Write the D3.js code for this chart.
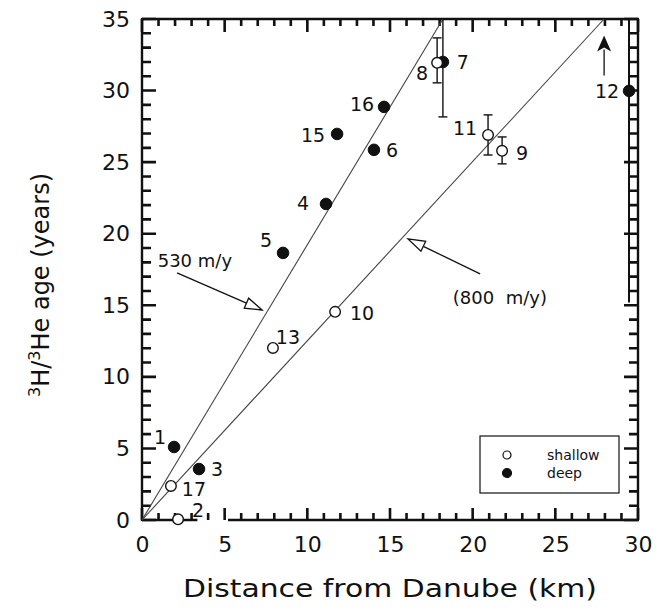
<!DOCTYPE html>
<html><head><meta charset="utf-8">
<script src="https://cdn.jsdelivr.net/npm/d3@7"></script>
<style>body{margin:0;background:#fff} svg{display:block} text{font-family:"DejaVu Sans",sans-serif;fill:#111}</style>
</head><body><svg id="c" width="659" height="612"></svg>
<script>
// ---------- data ----------
const sampleIds   = ["1","2","3","4","5","6","7","8","9","10","11","12","13","15","16","17"];
const sampleDepth = ["deep","shallow","deep","deep","deep","deep","deep","shallow","shallow","shallow","shallow","deep","shallow","deep","deep","shallow"];
const distanceKm  = [1.94, 2.18, 3.45, 11.13, 8.53, 14.03, 18.2, 17.85, 21.78, 11.68, 20.93, 29.46, 7.92, 11.8, 14.64, 1.75];
const ageYears    = [5.1, 0.05, 3.56, 22.08, 18.66, 25.86, 32.0, 31.94, 25.79, 14.54, 26.9, 29.98, 12.02, 26.97, 28.86, 2.38];
const errLow      = [null,null,null,null,null,null,28.16,30.54,24.88,null,25.5,null,null,null,null,null];
const errHigh     = [null,null,null,null,null,null,35.0,33.68,26.76,null,28.3,null,null,null,null,null];
const xTicks = [0,5,10,15,20,25,30];
const yTicks = [0,5,10,15,20,25,30,35];
const xMinorTicks = [0,1,2,3,4,5,6,7,8,9,10,11,12,13,14,15,16,17,18,19,20,21,22,23,24,25,26,27,28,29,30];
const yMinorTicks = [0,1,2,3,4,5,6,7,8,9,10,11,12,13,14,15,16,17,18,19,20,21,22,23,24,25,26,27,28,29,30,31,32,33,34,35];
const flowLines = [ // velocity lines from origin: [x0,y0,x1,y1]
  {name:"530 m/y", pts:[0,0,18.2,35]},
  {name:"800 m/y", pts:[0,0,27.95,35]}
];
const annotations = [ // text anchor + arrow tail/tip in data units
  {text:"530 m/y",   tx:0.95, ty:17.7, ax1:2.12, ay1:17.26, ax2:7.26, ay2:14.67},
  {text:"(800  m/y)", tx:18.8, ty:15.1, ax1:20.45, ay1:17.19, ax2:16.09, ay2:19.64}
];
const upArrow12 = {x:27.95, y1:31.05, y2:33.85}; // age of well 12 is a lower limit
const legendItems = ["shallow","deep"];

// ---------- layout (not data) ----------
const labelOffset = {"1":[-14,-10],"2":[20,-9],"3":[18,0],"4":[-23,-1],"5":[-17,-13],"6":[18,0],
  "7":[20,0],"8":[-15,10],"9":[20,2],"10":[27,1],"11":[-23,-7],"12":[-22,0],"13":[15,-11],
  "15":[-24,1],"16":[-22,-3],"17":[23,3]};

const svg = d3.select("#c");
const x = d3.scaleLinear().domain([0,30]).range([142,638]);
const y = d3.scaleLinear().domain([0,35]).range([520,19]);
const ink = "#111";

// ---------- tick labels via d3 axes ----------
const gl = svg.append("g").attr("transform","translate(142,0)")
  .call(d3.axisLeft(y).tickValues(yTicks).tickSize(0).tickPadding(12));
const gb = svg.append("g").attr("transform","translate(0,520)")
  .call(d3.axisBottom(x).tickValues(xTicks).tickSize(0).tickPadding(16));
[gl,gb].forEach(g=>{g.select(".domain").remove(); g.selectAll("text").style("font-size","22px").attr("fill",ink);});

// ---------- inward ticks (one path) ----------
const isMajor = v => v % 5 === 0;
let tickPath = "";
yMinorTicks.forEach(v=>{
  const yy = y(v);
  tickPath += `M${x(0)},${yy}H${x(0)+(isMajor(v)?14:9)}`;
  tickPath += `M${x(30)},${yy}H${x(30)-(isMajor(v)?14:9)}`;
});
xMinorTicks.forEach(v=>{
  const xx = x(v);
  tickPath += `M${xx},${y(0)}V${y(0)-(isMajor(v)?12:7)}`;
  tickPath += `M${xx},${y(35)}V${y(35)+(isMajor(v)?13:7)}`;
});

// frame
const fr = svg.append("g").attr("stroke",ink).attr("stroke-width",2.4).attr("fill","none");
fr.append("line").attr("x1",x(0)).attr("x2",x(0)).attr("y1",y(0)+1).attr("y2",y(35)-1);
fr.append("line").attr("x1",x(0)).attr("x2",x(30)+1).attr("y1",y(35)).attr("y2",y(35));
fr.append("line").attr("x1",x(30)).attr("x2",x(30)).attr("y1",y(0)).attr("y2",y(35));
fr.append("line").attr("x1",x(0)).attr("x2",x(3.35)).attr("y1",y(0)).attr("y2",y(0));
fr.append("line").attr("x1",x(5.2)).attr("x2",x(30)+1).attr("y1",y(0)).attr("y2",y(0));
// inner rail on the right axis (ladder look)
fr.append("line").attr("stroke-width",2).attr("x1",x(30)-9).attr("x2",x(30)-9).attr("y1",y(35)).attr("y2",y(15.2));
svg.append("path").attr("d",tickPath).attr("fill","none").attr("stroke",ink).attr("stroke-width",2.6);

// axis titles
svg.append("text").attr("x",390).attr("y",597).attr("text-anchor","middle")
  .attr("textLength",414).attr("lengthAdjust","spacingAndGlyphs")
  .style("font-size","24px").text("Distance from Danube (km)");
const yt = svg.append("text").attr("transform","translate(49,285) rotate(-90)").attr("text-anchor","middle").style("font-size","24px");
yt.append("tspan").attr("dy","-9").style("font-size","16px").text("3");
yt.append("tspan").attr("dy","9").text("H/");
yt.append("tspan").attr("dy","-9").style("font-size","16px").text("3");
yt.append("tspan").attr("dy","9").text("He age  (years)");

// ---------- flow lines ----------
svg.append("g").selectAll("line").data(flowLines).join("line")
  .attr("x1",d=>x(d.pts[0])).attr("y1",d=>y(d.pts[1])).attr("x2",d=>x(d.pts[2])).attr("y2",d=>y(d.pts[3]))
  .attr("stroke","#444").attr("stroke-width",1.1);

// ---------- annotations ----------
function openArrow(x1,y1,x2,y2,len,hw){
  const a = Math.atan2(y2-y1,x2-x1), c=Math.cos(a), s=Math.sin(a);
  const bx=x2-len*c, by=y2-len*s;
  svg.append("line").attr("x1",x1).attr("y1",y1).attr("x2",bx).attr("y2",by).attr("stroke",ink).attr("stroke-width",1.3);
  svg.append("polygon").attr("points",[[x2,y2],[bx-hw*s,by+hw*c],[bx+hw*s,by-hw*c]].map(p=>p.join(",")).join(" "))
    .attr("fill","#fff").attr("stroke",ink).attr("stroke-width",1.3).attr("stroke-linejoin","miter");
}
annotations.forEach(a=>{
  svg.append("text").attr("x",x(a.tx)).attr("y",y(a.ty)).style("font-size","18px").style("white-space","pre").text(a.text);
  openArrow(x(a.ax1),y(a.ay1),x(a.ax2),y(a.ay2),17,5.5);
});
// up arrow for well 12
svg.append("line").attr("x1",x(upArrow12.x)).attr("x2",x(upArrow12.x)).attr("y1",y(upArrow12.y1)).attr("y2",y(upArrow12.y2)+14)
  .attr("stroke",ink).attr("stroke-width",1.3);
svg.append("polygon").attr("points",[[x(upArrow12.x),y(upArrow12.y2)],[x(upArrow12.x)-7,y(upArrow12.y2)+16],[x(upArrow12.x),y(upArrow12.y2)+12],[x(upArrow12.x)+7,y(upArrow12.y2)+16]].map(p=>p.join(",")).join(" "))
  .attr("fill",ink);

// ---------- error bars ----------
const eb = svg.append("g").attr("stroke",ink).attr("stroke-width",1.4);
sampleIds.forEach((id,i)=>{
  if(errLow[i]==null) return;
  const cx=x(distanceKm[i]);
  const top = Math.min(errHigh[i],35);
  eb.append("line").attr("x1",cx).attr("x2",cx).attr("y1",y(errLow[i])).attr("y2",y(top));
  eb.append("line").attr("x1",cx-4.5).attr("x2",cx+4.5).attr("y1",y(errLow[i])).attr("y2",y(errLow[i]));
  if(errHigh[i]<35) eb.append("line").attr("x1",cx-4.5).attr("x2",cx+4.5).attr("y1",y(top)).attr("y2",y(top));
});

// ---------- points ----------
const pts = sampleIds.map((id,i)=>({id, t:sampleDepth[i], d:distanceKm[i], a:ageYears[i]}));
svg.append("g").selectAll("circle").data(pts).join("circle")
  .attr("cx",d=>x(d.d)).attr("cy",d=>y(d.a)).attr("r",d=>d.t==="deep"?5.8:5.3)
  .attr("fill",d=>d.t==="deep"?ink:"#fff").attr("stroke",ink).attr("stroke-width",d=>d.t==="deep"?1:1.4);
svg.append("g").selectAll("text").data(pts).join("text")
  .attr("x",d=>x(d.d)+labelOffset[d.id][0]).attr("y",d=>y(d.a)+labelOffset[d.id][1])
  .attr("text-anchor","middle").attr("dominant-baseline","central").style("font-size","19px").text(d=>d.id);

// ---------- legend ----------
const lg = svg.append("g");
lg.append("rect").attr("x",480).attr("y",436).attr("width",139).attr("height",57).attr("fill","#fff").attr("stroke",ink).attr("stroke-width",1.2);
legendItems.forEach((k,i)=>{
  const ly = 455+i*18;
  lg.append("circle").attr("cx",507).attr("cy",ly).attr("r",k==="deep"?4.5:4).attr("fill",k==="deep"?ink:"#fff").attr("stroke",ink).attr("stroke-width",1.2);
  lg.append("text").attr("x",547).attr("y",ly).attr("dominant-baseline","central").style("font-size","14px").text(k);
});
</script></body></html>
